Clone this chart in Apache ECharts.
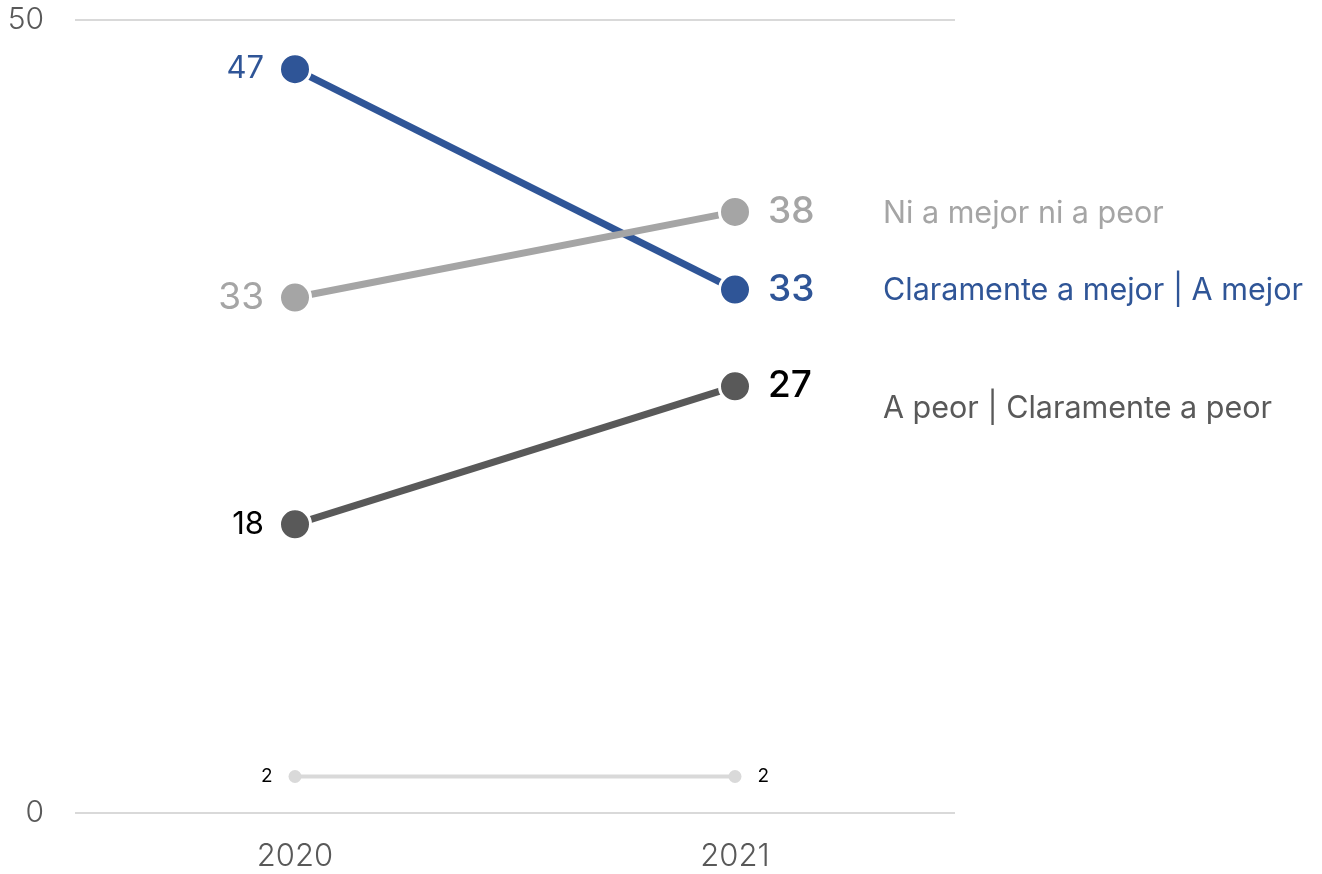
<!DOCTYPE html>
<html>
<head>
<meta charset="utf-8">
<script src="https://cdn.jsdelivr.net/npm/echarts@6/dist/echarts.min.js"></script>
<style>
html,body{margin:0;padding:0;background:#fff;}
#chart{width:1322px;height:874px;}
</style>
</head>
<body>
<div id="chart"></div>
<script>
const years = ['2020', '2021'];
const seriesNames = ['Ni a mejor ni a peor', 'Claramente a mejor | A mejor', 'A peor | Claramente a peor', 'NS/NC'];
const niMejorNiPeor = [32.5, 37.9];
const claramenteMejor = [46.9, 33];
const peor = [18.2, 26.9];
const nsnc = [2.3, 2.3];
const yTicks = [0, 50];
const nameLabelY = [37.75, 32.95, 25.5];

const FONT = 'Inter, "Noto Sans", sans-serif';
const colors = { grey: '#A5A5A5', blue: '#2F5597', dark: '#595959', light: '#D9D9D9' };

function mainSeries(name, data, color, leftStyle, rightStyle) {
  return {
    name, type: 'line',
    symbol: 'circle', symbolSize: 31,
    lineStyle: { color, width: 7 },
    itemStyle: { color, borderColor: '#fff', borderWidth: 3 },
    emphasis: { disabled: true },
    label: {
      show: true,
      fontFamily: FONT,
      formatter: p => Math.round(p.value),
    },
    data: data.map((v, i) => ({
      value: v,
      label: i === 0
        ? Object.assign({ position: 'left', distance: 14, padding: [4, 0, 0, 0] }, leftStyle)
        : Object.assign({ position: 'right', distance: 16, padding: [2, 0, 0, 0] }, rightStyle)
    }))
  };
}

const chart = echarts.init(document.getElementById('chart'));
const option = {
  animation: false,
  grid: { left: 75, right: 367, top: 20, bottom: 61 },
  xAxis: {
    type: 'category', data: years, boundaryGap: true,
    axisLine: { show: false }, axisTick: { show: false },
    axisLabel: { margin: 28, fontSize: 31, color: '#595959', fontFamily: FONT, fontWeight: 300 }
  },
  yAxis: {
    type: 'value', min: yTicks[0], max: yTicks[1], interval: 50,
    axisLine: { show: false }, axisTick: { show: false },
    axisLabel: { margin: 31, fontSize: 30, color: '#595959', fontFamily: FONT, fontWeight: 300,
      verticalAlign: 'middle', padding: [7, 0, 0, 0] },
    splitLine: { lineStyle: { color: '#D9D9D9', width: 2 } }
  },
  series: [
    {
      name: seriesNames[3], type: 'line',
      symbol: 'circle', symbolSize: 13,
      lineStyle: { color: colors.light, width: 4 },
      itemStyle: { color: colors.light },
      emphasis: { disabled: true },
      data: nsnc.map((v, i) => ({
        value: v,
        label: { show: true, position: i === 0 ? 'left' : 'right', distance: 16,
          fontSize: 19, color: '#000', fontFamily: FONT, padding: [2, 0, 0, 0],
          formatter: p => Math.round(p.value) }
      }))
    },
    mainSeries(seriesNames[2], peor, colors.dark,
      { fontSize: 31, color: '#000', fontWeight: 400 },
      { fontSize: 37, color: '#000', fontWeight: 500 }),
    mainSeries(seriesNames[1], claramenteMejor, colors.blue,
      { fontSize: 31, color: colors.blue, fontWeight: 400 },
      { fontSize: 37, color: colors.blue, fontWeight: 500 }),
    mainSeries(seriesNames[0], niMejorNiPeor, colors.grey,
      { fontSize: 37, color: colors.grey, fontWeight: 400 },
      { fontSize: 37, color: colors.grey, fontWeight: 500 })
  ]
};
chart.setOption(option);

const nameColors = [colors.grey, colors.blue, colors.dark];
const graphics = seriesNames.slice(0, 3).map((n, i) => {
  const y = chart.convertToPixel({ yAxisIndex: 0 }, nameLabelY[i]);
  return {
    type: 'text', x: 883, y: y,
    style: { text: n, fontSize: 30.5, fontFamily: FONT, fill: nameColors[i], fontWeight: 400,
      verticalAlign: 'middle', align: 'left' }
  };
});
chart.setOption({ graphic: graphics });
</script>
</body>
</html>
